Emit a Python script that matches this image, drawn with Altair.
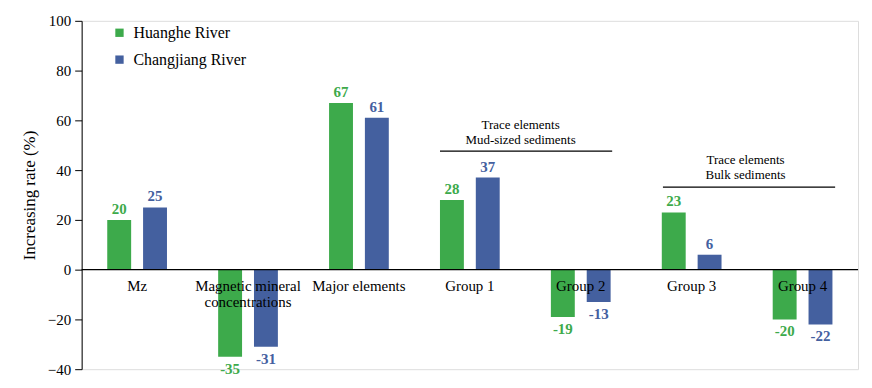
import altair as alt
import pandas as pd

categories = ["Mz", "Magnetic mineral concentrations", "Major elements",
              "Group 1", "Group 2", "Group 3", "Group 4"]
cat_labels = ["Mz", "Magnetic mineral\nconcentrations", "Major elements",
              "Group 1", "Group 2", "Group 3", "Group 4"]
rivers = ["Huanghe River", "Changjiang River"]
huanghe = [20, -35, 67, 28, -19, 23, -20]
changjiang = [25, -31, 61, 37, -13, 6, -22]
colors = ["#3DAA4B", "#44609F"]

rows = []
for i, c in enumerate(categories):
    rows.append({"category": c, "river": rivers[0], "value": huanghe[i], "lab": str(huanghe[i])})
    rows.append({"category": c, "river": rivers[1], "value": changjiang[i], "lab": str(changjiang[i])})
df = pd.DataFrame(rows)
df_cat = pd.DataFrame({"category": categories, "label": cat_labels})

FONT = "'Times New Roman', 'Liberation Serif', serif"

x = alt.X("category:N", sort=categories, axis=None,
          scale=alt.Scale(paddingInner=0, paddingOuter=0))
xo = alt.XOffset("river:N", sort=rivers,
                 scale=alt.Scale(paddingInner=0.333, paddingOuter=0.714))
y = alt.Y("value:Q", scale=alt.Scale(domain=[-40, 100], nice=False),
          axis=alt.Axis(values=list(range(-40, 101, 10)),
                        labelExpr="datum.value % 20 == 0 ? datum.label : ''",
                        title="Increasing rate (%)"))
color = alt.Color("river:N", sort=rivers,
                  scale=alt.Scale(domain=rivers, range=colors),
                  legend=alt.Legend(orient="none", legendX=30, legendY=4, title=None,
                                    symbolType="square", symbolSize=70,
                                    symbolStrokeWidth=0,
                                    labelFontSize=16, labelColor="black",
                                    rowPadding=11, labelOffset=6))
tcolor = alt.Color("river:N", sort=rivers, scale=alt.Scale(domain=rivers, range=colors), legend=None)

base = alt.Chart(df)
bars = base.mark_bar().encode(x=x, xOffset=xo, y=y, color=color)

pos_lab = base.transform_filter("datum.value >= 0").mark_text(
    baseline="bottom", dy=-3, font=FONT, fontSize=15, fontWeight="bold"
).encode(x=x, xOffset=xo, y="value:Q", text="lab:N", color=tcolor)
neg_lab = base.transform_filter("datum.value < 0").mark_text(
    baseline="top", dy=5, font=FONT, fontSize=15, fontWeight="bold"
).encode(x=x, xOffset=xo, y="value:Q", text="lab:N", color=tcolor)

zero = alt.Chart(pd.DataFrame({"z": [0]})).mark_rule(color="black", strokeWidth=1.2).encode(y="z:Q")

cat_text = alt.Chart(df_cat).mark_text(
    baseline="top", dy=9, font=FONT, fontSize=15, color="black", lineBreak="\n", lineHeight=17
).encode(x=x, y=alt.datum(0), text="label:N")

ann = pd.DataFrame({
    "text": ["Trace elements\nMud-sized sediments", "Trace elements\nBulk sediments"],
    "tx": [441, 667], "ty": [58, 44],
    "x1": [360, 584], "x2": [533, 757], "ly": [47.6, 33.2],
})
ann_rules = alt.Chart(ann).mark_rule(color="black", strokeWidth=1.2).encode(
    x=alt.X("x1:Q", scale=None), x2="x2:Q", y="ly:Q")
ann_text = alt.Chart(ann).mark_text(
    font=FONT, fontSize=13, color="black", lineBreak="\n", lineHeight=15, baseline="middle"
).encode(x=alt.X("tx:Q", scale=None), y="ty:Q", text="text:N")

chart = alt.layer(bars, zero, cat_text, pos_lab, neg_lab, ann_rules, ann_text).properties(
    width=780, height=350,
    padding={"left": 12, "top": 5, "right": 5, "bottom": 5},
).configure_view(stroke=None).configure(background="white", font=FONT).configure_axis(
    grid=False, domainColor="black", tickColor="black",
    tickSize=7, labelPadding=4, labelFont=FONT, labelFontSize=15,
    labelColor="black", titleFont=FONT, titleFontSize=17, titleFontWeight="normal",
    titleColor="black", titlePadding=9).configure_legend(labelFont=FONT)

chart.save("out.html", embed_options={"renderer": "svg", "actions": False})
